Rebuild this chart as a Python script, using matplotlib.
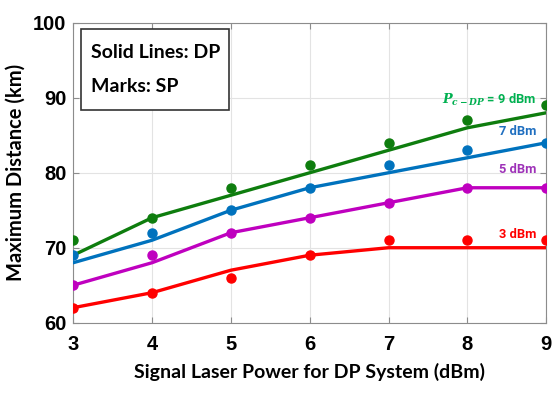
import matplotlib
matplotlib.use("Agg")
import matplotlib.pyplot as plt
from matplotlib.patches import Rectangle

plt.rcParams['font.family'] = ['Liberation Sans', 'DejaVu Sans']
plt.rcParams['font.weight'] = 'bold'
plt.rcParams['mathtext.fontset'] = 'dejavuserif'

x = [3, 4, 5, 6, 7, 8, 9]
dp_9 = [69, 74, 77, 80, 83, 86, 88]
sp_9 = [71, 74, 78, 81, 84, 87, 89]
dp_7 = [68, 71, 75, 78, 80, 82, 84]
sp_7 = [69, 72, 75, 78, 81, 83, 84]
dp_5 = [65, 68, 72, 74, 76, 78, 78]
sp_5 = [65, 69, 72, 74, 76, 78, 78]
dp_3 = [62, 64, 67, 69, 70, 70, 70]
sp_3 = [62, 64, 66, 69, 71, 71, 71]

fig = plt.figure(figsize=(5.59, 3.94), dpi=100)
ax = fig.add_axes([0.131, 0.181, 0.846, 0.761])

series = [
    (dp_9, sp_9, '#0e7d0e'),
    (dp_7, sp_7, '#0072bd'),
    (dp_5, sp_5, '#bf00bf'),
    (dp_3, sp_3, '#ff0000'),
]
for dp, sp, c in series:
    ax.plot(x, dp, color=c, lw=2.4, solid_capstyle='round', zorder=3)
    ax.plot(x, sp, 'o', color=c, ms=6.5, zorder=4)

ann = [
    (r'$\mathbf{\mathit{P}_{\mathit{c-DP}}}$ = 9 dBm', '#00b050', 89.7),
    ('7 dBm', '#1f6fc0', 85.5),
    ('5 dBm', '#9e32b8', 80.4),
    ('3 dBm', '#ff0000', 71.7),
]
for txt, tc, ty in ann:
    ax.text(8.88, ty, txt, color=tc, fontsize=9.3, fontweight='bold',
            fontfamily='Roboto', ha='right', va='center', zorder=5)

ax.set_xlim(3, 9)
ax.set_ylim(60, 100)
ax.set_xticks(x)
ax.set_yticks([60, 70, 80, 90, 100])
ax.grid(True, color='#e3e3e3', lw=0.8)
ax.set_axisbelow(True)
for s in ax.spines.values():
    s.set_color('#8c8c8c')
    s.set_linewidth(0.8)
ax.tick_params(direction='in', length=4, color='#8c8c8c', top=True, right=True,
               labelsize=14.5)
ax.tick_params(axis='x', pad=9)
ax.tick_params(axis='y', pad=5)

ax.set_xlabel('Signal Laser Power for DP System (dBm)', fontsize=14,
              fontweight='bold', fontfamily='Lato', labelpad=6)
ax.set_ylabel('Maximum Distance (km)', fontsize=14.5, fontweight='bold',
              fontfamily='Lato', labelpad=5)

ax.add_patch(Rectangle((0.017, 0.709), 0.313, 0.270, transform=ax.transAxes,
                       fc='white', ec='#333333', lw=1.2, zorder=6))
ax.text(0.038, 0.882, 'Solid Lines: DP', transform=ax.transAxes, fontsize=14,
        fontweight='bold', fontfamily='Lato', va='baseline', ha='left', zorder=7)
ax.text(0.038, 0.769, 'Marks: SP', transform=ax.transAxes, fontsize=14,
        fontweight='bold', fontfamily='Lato', va='baseline', ha='left', zorder=7)

fig.savefig('out.png', dpi=100)
